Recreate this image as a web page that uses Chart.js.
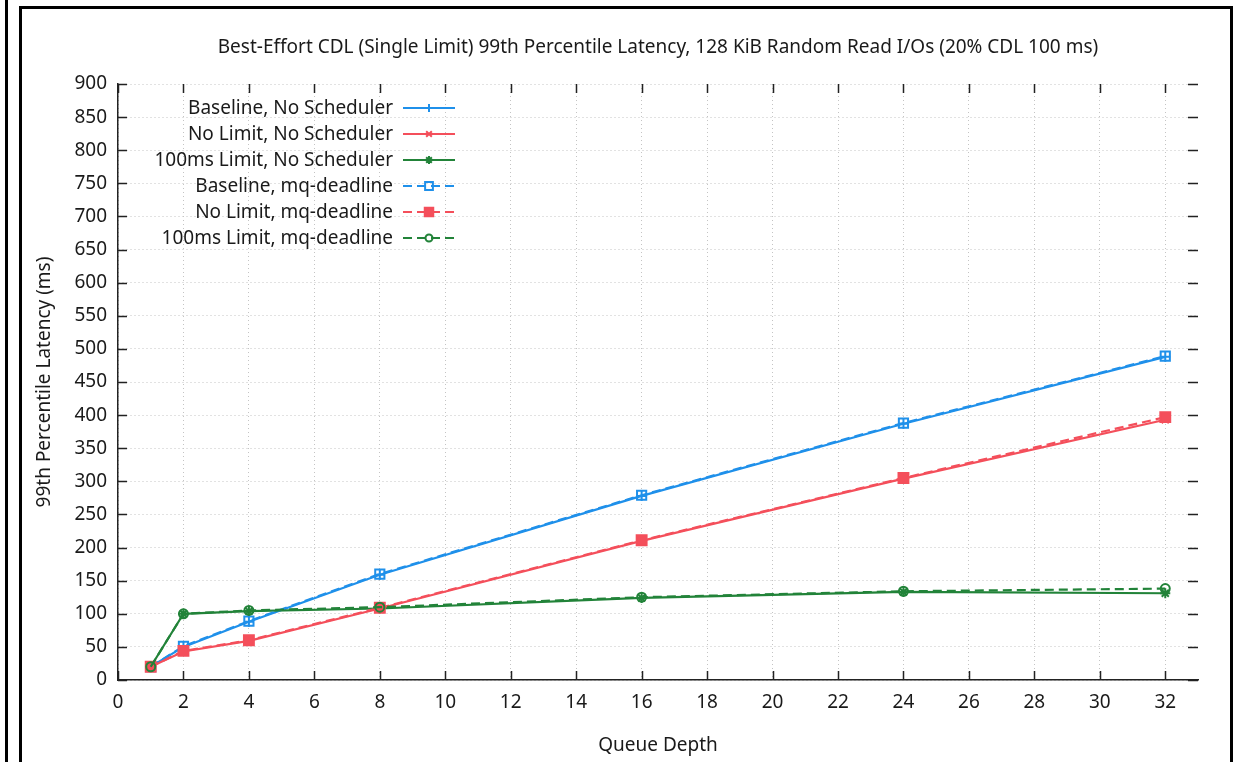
<!doctype html>
<html>
<head>
    <title>CDL latency</title>
    <script src="https://cdn.jsdelivr.net/npm/chart.js@4.4.1/dist/chart.umd.min.js"></script>
    <style>
    html, body { margin: 0; padding: 0; background: #fff; overflow: hidden; }
    #outer { position: absolute; left: 5px; top: 0; width: 3px; height: 762px; background: #000; }
    #frame { position: absolute; left: 19px; top: 6px; width: 1208px; height: 800px; border: 3px solid #000; }
    #chart { position: absolute; left: 0; top: 0; }
    </style>
</head>
<body>
    <div id="outer"></div>
    <div id="frame"></div>
    <canvas id="chart" width="1238" height="762"></canvas>

    <script>
    var titleText = 'Best-Effort CDL (Single Limit) 99th Percentile Latency, 128 KiB Random Read I/Os (20% CDL 100 ms)';

    // queue depths
    var queueDepth = [1, 2, 4, 8, 16, 24, 32];

    // 99th percentile latency (ms)
    var baseNoSched    = [20, 50, 88, 159, 278, 387, 488];
    var noLimitNoSched = [20, 43, 59, 108, 210, 304, 393];
    var lim100NoSched  = [20, 100, 104, 108, 124, 133, 131];
    var baseMq         = [20, 51, 89, 160, 279, 388, 489];
    var noLimitMq      = [20, 44, 60, 109, 211, 305, 397];
    var lim100Mq       = [20, 100, 105, 110, 125, 134, 138];

    var blue = '#1f90ea', red = '#f44f5b', green = '#228339';
    var font = '"Noto Sans", "Open Sans", sans-serif';
    var fsize = 19;
    var ink = '#1a1a1a';

    function pts(arr) {
        return queueDepth.map(function(q, i) { return {x: q, y: arr[i]}; });
    }

    function series(label, arr, color, style, radius, dashed, filled, order) {
        return {
            label: label,
            data: pts(arr),
            borderColor: color,
            backgroundColor: filled ? color : 'rgba(0,0,0,0)',
            borderWidth: 2.2,
            borderDash: dashed ? [9, 5] : [],
            pointStyle: style,
            pointRadius: radius,
            pointBorderWidth: 2,
            pointBackgroundColor: filled ? color : 'rgba(0,0,0,0)',
            pointBorderColor: color,
            tension: 0,
            fill: false,
            order: order
        };
    }

    var datasets = [
        series('Baseline, No Scheduler', baseNoSched, blue, 'cross', 5, false, false, 6),
        series('No Limit, No Scheduler', noLimitNoSched, red, 'crossRot', 5, false, false, 5),
        series('100ms Limit, No Scheduler', lim100NoSched, green, 'star', 5, false, false, 4),
        series('Baseline, mq-deadline', baseMq, blue, 'rect', 6.5, true, false, 3),
        series('No Limit, mq-deadline', noLimitMq, red, 'rect', 7, true, true, 2),
        series('100ms Limit, mq-deadline', lim100Mq, green, 'circle', 4.5, true, false, 1)
    ];

    // gnuplot-like extras: title over plot, inward ticks on all sides, legend at top left
    var gnuplotLook = {
        id: 'gnuplotLook',
        afterDraw: function(chart) {
            var ctx = chart.ctx, a = chart.chartArea;
            var xs = chart.scales.x, ys = chart.scales.y;
            ctx.save();

            ctx.fillStyle = ink;
            ctx.font = fsize + 'px ' + font;
            ctx.textAlign = 'center';
            ctx.textBaseline = 'middle';
            ctx.fillText(titleText, (a.left + a.right) / 2, 48);

            ctx.strokeStyle = '#222';
            ctx.lineWidth = 1.5;
            ctx.beginPath();
            xs.ticks.forEach(function(t) {
                var px = Math.round(xs.getPixelForValue(t.value)) + 0.5;
                ctx.moveTo(px, a.bottom); ctx.lineTo(px, a.bottom - 9);
                ctx.moveTo(px, a.top); ctx.lineTo(px, a.top + 9);
            });
            ys.ticks.forEach(function(t) {
                var py = Math.round(ys.getPixelForValue(t.value)) + 0.5;
                ctx.moveTo(a.left, py); ctx.lineTo(a.left + 9, py);
                ctx.moveTo(a.right, py); ctx.lineTo(a.right - 10, py);
            });
            ctx.stroke();

            chart.data.datasets.forEach(function(ds, i) {
                var y = 109 + 26 * i;
                ctx.fillStyle = ink;
                ctx.textAlign = 'right';
                ctx.fillText(ds.label, 393, y);
                ctx.strokeStyle = ds.borderColor;
                ctx.lineWidth = 2.2;
                ctx.setLineDash(ds.borderDash);
                ctx.beginPath();
                ctx.moveTo(403, y - 1); ctx.lineTo(455, y - 1);
                ctx.stroke();
                ctx.setLineDash([]);
                ctx.lineWidth = 2;
                ctx.fillStyle = ds.pointBackgroundColor;
                Chart.helpers.drawPoint(ctx, {
                    pointStyle: ds.pointStyle, radius: ds.pointRadius - 1, rotation: 0, borderWidth: 2
                }, 429, y - 1);
            });
            ctx.restore();
        }
    };

    new Chart(document.getElementById('chart').getContext('2d'), {
        type: 'line',
        data: { datasets: datasets },
        options: {
            responsive: false,
            animation: false,
            devicePixelRatio: 1,
            layout: { padding: { top: 84, right: 40, left: 0, bottom: 0 } },
            plugins: {
                legend: { display: false },
                title: { display: false },
                tooltip: { enabled: false }
            },
            scales: {
                x: {
                    type: 'linear',
                    min: 0,
                    max: 33,
                    afterFit: function(s) { s.height = 82; },
                    ticks: {
                        stepSize: 2,
                        includeBounds: false,
                        maxRotation: 0,
                        padding: 11,
                        color: ink,
                        font: { family: font, size: fsize }
                    },
                    grid: { color: '#c4c4c4', lineWidth: 1, drawTicks: false },
                    border: { display: true, color: '#222', width: 1.5, dash: [1, 3] },
                    title: {
                        display: true,
                        text: 'Queue Depth',
                        color: ink,
                        font: { family: font, size: fsize },
                        padding: { top: 0, bottom: 5 }
                    }
                },
                y: {
                    min: 0,
                    max: 900,
                    afterFit: function(s) { s.width = 118; },
                    ticks: {
                        stepSize: 50,
                        padding: 11,
                        color: ink,
                        font: { family: font, size: fsize }
                    },
                    grid: { color: '#c4c4c4', lineWidth: 1, drawTicks: false },
                    border: { display: true, color: '#222', width: 1.5, dash: [1, 3] },
                    title: {
                        display: true,
                        text: '99th Percentile Latency (ms)',
                        color: ink,
                        font: { family: font, size: fsize },
                        padding: { top: 33, bottom: 0 }
                    }
                }
            }
        },
        plugins: [gnuplotLook]
    });
    </script>
</body>
</html>
